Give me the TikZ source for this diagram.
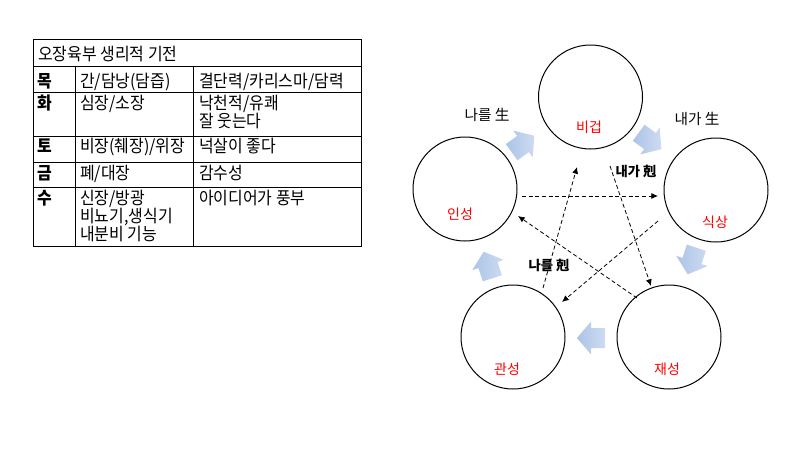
\documentclass[tikz,border=0pt]{standalone}
\usepackage{fontspec}
\setmainfont{Noto Sans CJK KR}
\newfontfamily\tblfont{Noto Sans CJK KR}[FakeStretch=0.92]
\usetikzlibrary{arrows.meta}
\definecolor{lblred}{RGB}{255,0,0}
\definecolor{arrA}{RGB}{172,196,230}
\definecolor{arrB}{RGB}{205,219,242}
\begin{document}
\begin{tikzpicture}[x=0.75pt,y=-0.75pt,
 tbl/.style={line width=0.75pt},
 celltext/.style={anchor=base west, inner sep=0pt, font={\tblfont\fontsize{13}{15}\selectfont}},
 headcell/.style={anchor=base west, inner sep=0pt, font={\tblfont\fontsize{13}{15}\selectfont\bfseries}},
 ring/.style={circle, draw, line width=0.75pt, minimum size=78pt, inner sep=0pt},
 ringlabel/.style={text=lblred, font=\fontsize{10.5}{12}\selectfont, inner sep=0pt},
 rel/.style={font=\fontsize{11}{13}\selectfont, inner sep=0pt},
 ke/.style={font=\fontsize{10}{12}\selectfont\bfseries, inner sep=0pt},
 dasharrow/.style={dash pattern=on 3pt off 2pt, line width=0.6pt, -{Latex[length=5pt,width=4.5pt]}},
 blockarrow/.pic={\shade[left color=arrA, right color=arrB] (-14,-10)--(0,-10)--(0,-16.5)--(14,0)--(0,16.5)--(0,10)--(-14,10)--cycle;}
]
\useasboundingbox (0,0) rectangle (800,450);
% ---------- table ----------
\draw[tbl] (33,39) rectangle (361,246);
\foreach \yy in {66,92,136,162,187} \draw[tbl] (33,\yy) -- (361,\yy);
\draw[tbl] (75,66) -- (75,246);
\draw[tbl] (193,66) -- (193,246);
\node[celltext] (hd) at (38,60.5) {오장육부 생리적 기전};
\node[headcell] (m1) at (37,87) {목};
\node[celltext] (m2) at (80,87) {간/담낭(담즙)};
\node[celltext] (m3) at (199,87) {결단력/카리스마/담력};
\node[headcell] (h1) at (37,109) {화};
\node[celltext] (h2) at (80,109) {심장/소장};
\node[celltext] (h3) at (199,109) {낙천적/유쾌};
\node[celltext] (h3b) at (199,127.5) {잘 웃는다};
\node[headcell] (t1) at (37,152) {토};
\node[celltext] (t2) at (80,152) {비장(췌장)/위장};
\node[celltext] (t3) at (199,152) {넉살이 좋다};
\node[headcell] (g1) at (37,179) {금};
\node[celltext] (g2) at (80,179) {폐/대장};
\node[celltext] (g3) at (199,179) {감수성};
\node[headcell] (s1) at (37,204) {수};
\node[celltext] (s2) at (80,204) {신장/방광};
\node[celltext] (s2b) at (80,222) {비뇨기,생식기};
\node[celltext] (s2c) at (80,240.5) {내분비 기능};
\node[celltext] (s3) at (199,204) {아이디어가 풍부};
% ---------- circles ----------
\node[ring] (bg) at (590.5,97) {};
\node[ring] (is) at (465,189) {};
\node[ring] (ss) at (716,190) {};
\node[ring] (gs) at (513,337) {};
\node[ring] (js) at (669,337) {};
\node[ringlabel] (bgl) at (589,127) {비겁};
\node[ringlabel] (isl) at (460,214) {인성};
\node[ringlabel] (ssl) at (715,222) {식상};
\node[ringlabel] (gsl) at (507,369) {관성};
\node[ringlabel] (jsl) at (667,369) {재성};
% ---------- block arrows ----------
\pic[rotate=36] at (523,144) {blockarrow};
\pic[rotate=-36] at (650,141) {blockarrow};
\pic[rotate=-108] at (692,261) {blockarrow};
\pic[rotate=180] at (591,338) {blockarrow};
\pic[rotate=108] at (488,265) {blockarrow};
% ---------- labels ----------
\node[rel] (l1) at (487,115) {나를 生};
\node[rel] (l2) at (697,119) {내가 生};
\node[ke] (l3) at (636,171) {내가 剋};
\node[ke] (l4) at (549,265) {나를 剋};
% ---------- dashed arrows ----------
\coordinate (d1s) at (522,196); \coordinate (d1e) at (658,196);
\coordinate (d2s) at (543,288); \coordinate (d2e) at (577,167);
\coordinate (d3s) at (610,166); \coordinate (d3e) at (651,286);
\coordinate (d4s) at (658,221); \coordinate (d4e) at (562,302);
\coordinate (d5s) at (637,298); \coordinate (d5e) at (518,216);
\draw[dasharrow] (d1s) -- (d1e);
\draw[dasharrow] (d2s) -- (d2e);
\draw[dasharrow] (d3s) -- (d3e);
\draw[dasharrow] (d4s) -- (d4e);
\draw[dasharrow] (d5s) -- (d5e);
\end{tikzpicture}
\end{document}
